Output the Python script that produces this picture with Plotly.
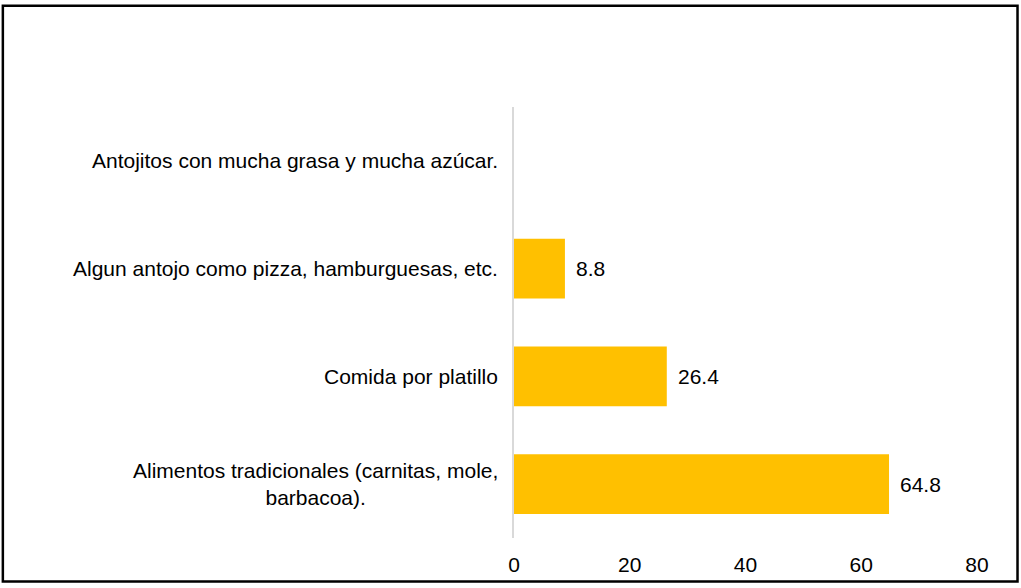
import plotly.graph_objects as go

categorias = [
    "Alimentos tradicionales (carnitas, mole,<br>barbacoa).",
    "Comida por platillo",
    "Algun antojo como pizza, hamburguesas, etc.",
    "Antojitos con mucha grasa y mucha azúcar.",
]
valores = [64.8, 26.4, 8.8, 0]
ticks_x = [0, 20, 40, 60, 80]

AMARILLO = "#FFC000"
FUENTE = "Liberation Sans, Arial, sans-serif"
TAM = 21

fig = go.Figure(go.Bar(
    x=valores,
    y=categorias,
    orientation="h",
    marker=dict(color=AMARILLO, line=dict(width=0)),
    hoverinfo="x+y",
))

# etiquetas de datos (solo los valores distintos de cero)
for cat, v in zip(categorias, valores):
    if v > 0:
        fig.add_annotation(
            x=v, y=cat, xref="x", yref="y",
            text=f"{v:.1f}", showarrow=False,
            xanchor="left", xshift=9,
            font=dict(family=FUENTE, size=TAM, color="black"),
        )

# etiquetas de categoría centradas (para que el salto de línea quede centrado)
for cat in categorias:
    fig.add_annotation(
        x=0, y=cat, xref="paper", yref="y",
        text=cat, showarrow=False,
        xanchor="right", xshift=-14, align="center",
        font=dict(family=FUENTE, size=TAM, color="black"),
    )

# marco exterior del gráfico (en coordenadas de papel, fuera del área de trazado)
fig.add_shape(
    type="rect", xref="paper", yref="paper",
    x0=-1.104, x1=1.0875, y0=-0.101, y1=1.235,
    line=dict(color="black", width=2.5),
)

fig.update_layout(
    width=1021,
    height=588,
    paper_bgcolor="white",
    plot_bgcolor="white",
    bargap=0.447,
    showlegend=False,
    margin=dict(l=514, r=44, t=107, b=47),
    font=dict(family=FUENTE, size=TAM, color="black"),
    xaxis=dict(
        range=[0, 80],
        tickvals=ticks_x,
        showgrid=False,
        zeroline=False,
        showline=False,
        ticks="outside",
        ticklen=8,
        tickcolor="white",
        tickfont=dict(size=TAM, color="black"),
        fixedrange=True,
    ),
    yaxis=dict(
        showticklabels=False,
        showgrid=False,
        zeroline=False,
        showline=True,
        linecolor="#D9D9D9",
        linewidth=1.5,
        ticks="",
        fixedrange=True,
    ),
)

fig.write_html(
    "out.html",
    config={"displayModeBar": False},
    post_script="document.body.style.margin='0';",
)
